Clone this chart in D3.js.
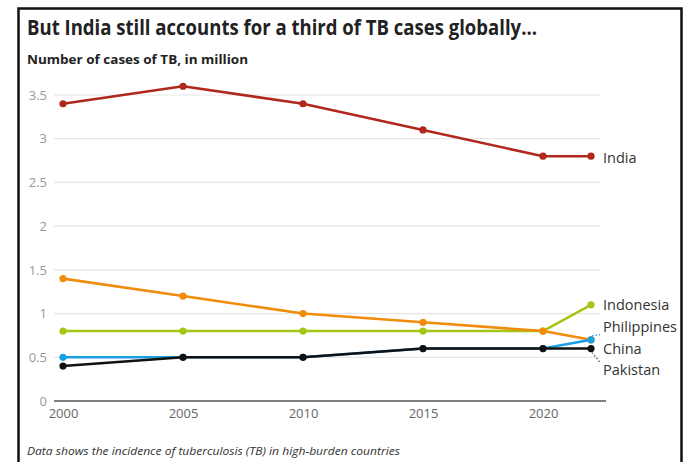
<!DOCTYPE html>
<html><head><meta charset="utf-8">
<script src="https://cdn.jsdelivr.net/npm/d3@7"></script>
<style>
html,body{margin:0;padding:0;background:#fff;}
svg{display:block;}
text{font-family:"Open Sans",sans-serif;}
</style></head>
<body>
<svg id="chart" width="688" height="462"></svg>
<script>
const years = [2000, 2005, 2010, 2015, 2020, 2022];
const india = [3.4, 3.6, 3.4, 3.1, 2.8, 2.8];
const china = [1.4, 1.2, 1.0, 0.9, 0.8, 0.7];
const indonesia = [0.8, 0.8, 0.8, 0.8, 0.8, 1.1];
const philippines = [0.5, 0.5, 0.5, 0.6, 0.6, 0.7];
const pakistan = [0.4, 0.5, 0.5, 0.6, 0.6, 0.6];
const yTicks = [0, 0.5, 1, 1.5, 2, 2.5, 3, 3.5];
const xTicks = [2000, 2005, 2010, 2015, 2020];

const series = [
  {name: "Indonesia", values: indonesia, color: "#a4c617", labelY: 1.1, leader: false},
  {name: "China", values: china, color: "#f08c0a", labelY: 0.6, leader: false},
  {name: "Philippines", values: philippines, color: "#1aa0e0", labelY: 0.85, leader: true},
  {name: "Pakistan", values: pakistan, color: "#111111", labelY: 0.35, leader: true},
  {name: "India", values: india, color: "#b0281c", labelY: 2.78, leader: false}
];

const svg = d3.select("#chart");
const x = d3.scaleLinear().domain([2000, 2022]).range([63, 591]);
const y = d3.scaleLinear().domain([0, 3.5]).range([401, 95]);

// frame
svg.append("path")
  .attr("d", "M18.5,470 L18.5,8.5 L681.5,8.5 L681.5,470")
  .attr("fill", "none").attr("stroke", "#111").attr("stroke-width", 2.5);

// title
svg.append("text").attr("x", 27).attr("y", 35)
  .attr("font-size", 21).attr("font-weight", "bold").attr("fill", "#222")
  .attr("textLength", 510).attr("lengthAdjust", "spacingAndGlyphs")
  .text("But India still accounts for a third of TB cases globally...");
svg.append("text").attr("x", 27).attr("y", 64)
  .attr("font-size", 13).attr("font-weight", "bold").attr("fill", "#222")
  .attr("textLength", 221).attr("lengthAdjust", "spacingAndGlyphs")
  .text("Number of cases of TB, in million");

// y grid
const gy = svg.append("g").attr("transform", "translate(53,0)")
  .call(d3.axisLeft(y).tickValues(yTicks).tickSize(0).tickPadding(6)
        .tickFormat(d => d3.format("~g")(d)));
gy.select(".domain").remove();
gy.selectAll("text").attr("font-size", 13).attr("fill", "#999")
  .style("font-family", "'Open Sans',sans-serif");
svg.append("g").selectAll("line").data(yTicks.filter(d => d > 0)).join("line")
  .attr("x1", 54).attr("x2", 600)
  .attr("y1", d => y(d)).attr("y2", d => y(d))
  .attr("stroke", "#e6e6e6").attr("stroke-width", 1.2);

// x axis
svg.append("line").attr("x1", 54).attr("x2", 606)
  .attr("y1", y(0)).attr("y2", y(0)).attr("stroke", "#555").attr("stroke-width", 1.5);
const gx = svg.append("g").attr("transform", `translate(0,${y(0)})`)
  .call(d3.axisBottom(x).tickValues(xTicks).tickSize(0).tickPadding(8).tickFormat(d3.format("d")));
gx.select(".domain").remove();
gx.selectAll("text").attr("font-size", 13).attr("fill", "#666")
  .style("font-family", "'Open Sans',sans-serif");

// lines
const line = d3.line().x((d, i) => x(years[i])).y(d => y(d));
series.forEach(s => {
  const g = svg.append("g");
  g.append("path").datum(s.values).attr("d", line)
    .attr("fill", "none").attr("stroke", s.color).attr("stroke-width", 2.6)
    .attr("stroke-linejoin", "round");
  g.selectAll("circle").data(s.values).join("circle")
    .attr("cx", (d, i) => x(years[i])).attr("cy", d => y(d)).attr("r", 3.6)
    .attr("fill", s.color);
});

// labels
const lastX = x(years[years.length - 1]);
series.forEach(s => {
  const lastV = s.values[s.values.length - 1];
  if (s.leader) {
    const ly = y(s.labelY);
    const dir = ly < y(lastV) ? -1 : 1;
    svg.append("line")
      .attr("x1", lastX + 1).attr("y1", y(lastV) + dir * 4)
      .attr("x2", lastX + 9).attr("y2", ly - dir * 8)
      .attr("stroke", s.color === "#111111" ? "#555" : s.color)
      .attr("stroke-width", 1.3).attr("stroke-dasharray", "1.5,2");
  }
  svg.append("text").attr("x", 603).attr("y", y(s.labelY)).attr("dy", "0.35em")
    .attr("font-size", 14.5).attr("fill", "#333").text(s.name);
});

// footnote
svg.append("text").attr("x", 27).attr("y", 455)
  .attr("font-size", 11.5).attr("font-style", "italic").attr("fill", "#333")
  .attr("textLength", 373).attr("lengthAdjust", "spacingAndGlyphs")
  .text("Data shows the incidence of tuberculosis (TB) in high-burden countries");
</script>
</body></html>
